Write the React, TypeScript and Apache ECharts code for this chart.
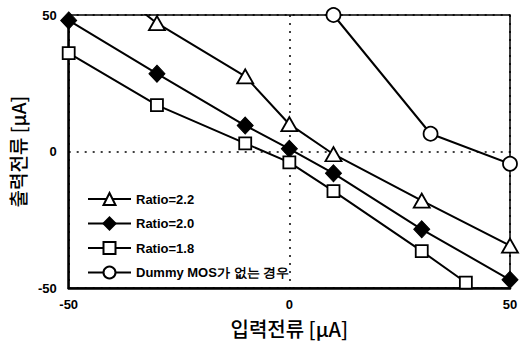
import React, { useEffect, useRef } from "react";
import * as echarts from "echarts";

const xTriangle = [-50, -30, -10, 0, 10, 30, 50];
const yTriangle = [72, 47, 27.5, 10, -1, -18, -34.5];
const xDiamond = [-50, -30, -10, 0, 10, 30, 50];
const yDiamond = [48, 28.5, 9.5, 1, -8, -28.5, -47];
const xSquare = [-50, -30, -10, 0, 10, 30, 40];
const ySquare = [36, 17, 3, -4, -14.5, -36.5, -48];
const xCircle = [10, 32, 50];
const yCircle = [50, 6.5, -4.5];
const seriesNames = ["Ratio=2.2", "Ratio=2.0", "Ratio=1.8", "Dummy MOS가 없는 경우"];

const zip = (xs: number[], ys: number[]) => xs.map((x, i) => [x, ys[i]]);

export default function App() {
  const ref = useRef<HTMLDivElement>(null);
  useEffect(() => {
    if (!ref.current) return;
    const chart = echarts.init(ref.current, undefined, { renderer: "svg" });
    const base = {
      type: "line",
      lineStyle: { color: "#000", width: 2 },
      clip: true,
      z: 3,
    };
    const labelFont = {
      fontFamily: "Liberation Sans, Arial, sans-serif",
      fontWeight: "bold",
      fontSize: 13,
      color: "#000",
    };
    chart.setOption({
      animation: false,
      backgroundColor: "#fff",
      grid: {
        left: 67,
        right: 13,
        top: 15,
        bottom: 52,
        show: true,
        borderColor: "#000",
        borderWidth: 1.5,
        backgroundColor: "transparent",
      },
      xAxis: {
        type: "value",
        min: -50,
        max: 50,
        interval: 50,
        axisLine: { show: true, lineStyle: { color: "#000", width: 2.5 }, onZero: false },
        axisTick: { show: false },
        axisLabel: { ...labelFont, margin: 10 },
        splitLine: { show: true, lineStyle: { color: "#000", width: 1.5, type: [2, 6] } },
        name: "입력전류 [μA]",
        nameLocation: "middle",
        nameGap: 30,
        nameTextStyle: {
          fontFamily: "Noto Sans CJK KR, sans-serif",
          fontWeight: 500,
          fontSize: 20,
          color: "#000",
        },
      },
      yAxis: {
        type: "value",
        min: -50,
        max: 50,
        interval: 50,
        axisLine: { show: true, lineStyle: { color: "#000", width: 2.5 }, onZero: false },
        axisTick: { show: false },
        axisLabel: { ...labelFont, margin: 12 },
        splitLine: { show: true, lineStyle: { color: "#000", width: 1.5, type: [2, 6] } },
        name: "출력전류 [μA]",
        nameLocation: "middle",
        nameGap: 35,
        nameTextStyle: {
          fontFamily: "Noto Sans CJK KR, sans-serif",
          fontWeight: 500,
          fontSize: 19,
          color: "#000",
        },
      },
      legend: {
        orient: "vertical",
        left: 82,
        top: 187,
        itemWidth: 43,
        itemHeight: 15,
        itemGap: 10.5,
        data: seriesNames,
        textStyle: {
          fontFamily: "Liberation Sans, Arial, sans-serif",
          fontWeight: "bold",
          fontSize: 13,
          color: "#000",
        },
      },
      series: [
        {
          ...base,
          name: seriesNames[0],
          data: zip(xTriangle, yTriangle),
          symbol: "triangle",
          symbolSize: [16, 14],
          itemStyle: { color: "#fff", borderColor: "#000", borderWidth: 1.8 },
        },
        {
          ...base,
          name: seriesNames[1],
          data: zip(xDiamond, yDiamond),
          symbol: "diamond",
          symbolSize: [16, 17],
          itemStyle: { color: "#000", borderColor: "#000", borderWidth: 1 },
        },
        {
          ...base,
          name: seriesNames[2],
          data: zip(xSquare, ySquare),
          symbol: "rect",
          symbolSize: 12,
          itemStyle: { color: "#fff", borderColor: "#000", borderWidth: 1.8 },
        },
        {
          ...base,
          name: seriesNames[3],
          data: zip(xCircle, yCircle),
          symbol: "circle",
          symbolSize: 14,
          itemStyle: { color: "#fff", borderColor: "#000", borderWidth: 1.8 },
        },
      ],
    });
    return () => chart.dispose();
  }, []);
  return <div ref={ref} style={{ width: 523, height: 343, position: "absolute", left: 0, top: 0 }} />;
}
